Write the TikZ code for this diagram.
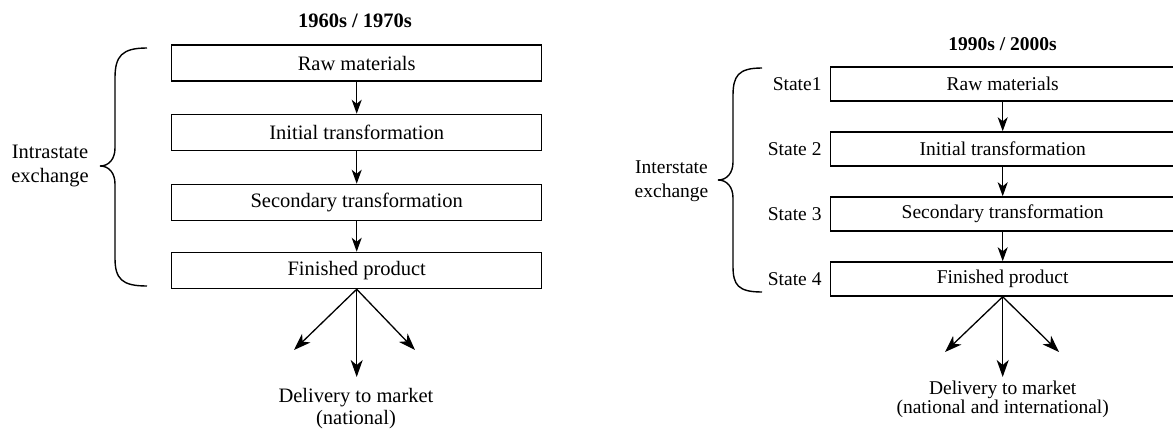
\documentclass[tikz,border=0pt]{standalone}
\usepackage{fontspec}
\setmainfont{Liberation Serif}
\usetikzlibrary{arrows.meta}
\begin{document}
\begin{tikzpicture}[x=1pt,y=-1pt,
  lbox/.style={draw,line width=1.5pt,minimum width=370pt,minimum height=36pt,inner sep=0pt,font=\fontsize{20.5}{22}\selectfont},
  rbox/.style={draw,line width=1.5pt,minimum width=344pt,minimum height=34pt,inner sep=0pt,font=\fontsize{19.5}{21}\selectfont},
  flow/.style={line width=1.3pt,-{Stealth[length=14pt,width=10pt,inset=4pt]}},
  outflow/.style={line width=1.3pt,-{Stealth[length=17pt,width=12pt,inset=5pt]}},
  bracepath/.style={line width=1.4pt},
  ltext/.style={inner sep=0pt,align=center,font=\fontsize{20.5}{24}\selectfont},
  rtext/.style={inner sep=0pt,align=center,font=\fontsize{19.5}{24}\selectfont},
  ttl/.style={inner sep=0pt,font=\bfseries\fontsize{20.5}{22}\selectfont},
  rttl/.style={inner sep=0pt,font=\bfseries\fontsize{19.5}{22}\selectfont},
  statelbl/.style={inner sep=0pt,anchor=east,font=\fontsize{19.5}{21}\selectfont}
]
\useasboundingbox (0,0) rectangle (1173,431);
\clip (0,0) rectangle (1173,431);

% ---------- left panel ----------
\node[ttl] (ltitle) at (355,21) {1960s / 1970s};
\node[lbox] (l1) at (356.7,63) {Raw materials};
\node[lbox] (l2) at (356.7,132.5) {Initial transformation};
\node[lbox] (l3) at (356.7,202.5) {Secondary transformation};
\node[lbox] (l4) at (356.7,270.5) {Finished product};
\draw[flow] (l1.south) -- (l2.north);
\draw[flow] (l2.south) -- (l3.north);
\draw[flow] (l3.south) -- (l4.north);
\coordinate (lleft) at (294,350);
\coordinate (lmid) at (356.7,377);
\coordinate (lright) at (415,350);
\draw[outflow] (l4.south) -- (lleft);
\draw[outflow] (l4.south) -- (lmid);
\draw[outflow] (l4.south) -- (lright);
\node[ltext,font=\fontsize{20.5}{22}\selectfont] (ldel) at (356,409) {Delivery to market\\(national)};
\draw[bracepath] (147,48) .. controls (122,48) and (115,56) .. (115,78) -- (115,148)
  .. controls (115,159) and (109,166) .. (100,166)
  .. controls (109,166) and (115,173) .. (115,184) -- (115,258)
  .. controls (115,279) and (122,286) .. (147,286);
\node[ltext] (lex) at (50,166) {Intrastate\\exchange};

% ---------- right panel ----------
\node[rttl] (rtitle) at (1002.6,44) {1990s / 2000s};
\node[rbox] (r1) at (1002.7,84) {Raw materials};
\node[rbox] (r2) at (1002.7,149) {Initial transformation};
\node[rbox] (r3) at (1002.7,214) {Secondary transformation};
\node[rbox] (r4) at (1002.7,279) {Finished product};
\draw[flow] (r1.south) -- (r2.north);
\draw[flow] (r2.south) -- (r3.north);
\draw[flow] (r3.south) -- (r4.north);
\node[statelbl] (s1) at (821.7,84) {State1};
\node[statelbl] (s2) at (821.7,149) {State 2};
\node[statelbl] (s3) at (821.7,214) {State 3};
\node[statelbl] (s4) at (821.7,279) {State 4};
\coordinate (rleft) at (945,352);
\coordinate (rmid) at (1002.7,377);
\coordinate (rright) at (1059,352);
\draw[outflow] (r4.south) -- (rleft);
\draw[outflow] (r4.south) -- (rmid);
\draw[outflow] (r4.south) -- (rright);
\node[rtext,font=\fontsize{19.5}{17.5}\selectfont] (rdel) at (1002.7,399.5) {Delivery to market\\(national and international)};
\draw[bracepath] (762,68) .. controls (738,68) and (733,76) .. (733,96) -- (733,162)
  .. controls (733,173) and (727,180) .. (718,180)
  .. controls (727,180) and (733,187) .. (733,198) -- (733,266)
  .. controls (733,285) and (738,292) .. (762,292);
\node[rtext] (rex) at (671.5,181) {Interstate\\exchange};
\end{tikzpicture}
\end{document}
